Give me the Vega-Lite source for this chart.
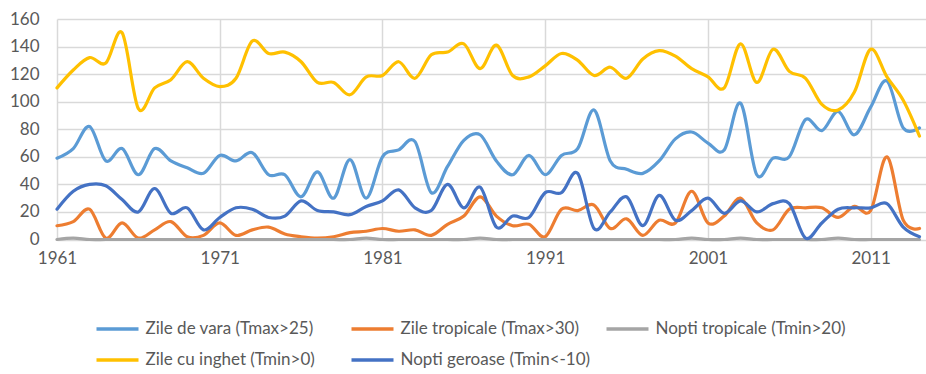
{
  "$schema": "https://vega.github.io/schema/vega-lite/v6.json",
  "width": 869,
  "height": 220.5,
  "autosize": {"type": "none"},
  "padding": {"left": 57, "top": 19, "right": 0, "bottom": 134.5},
  "background": "white",
  "config": {
    "font": "Lato",
    "view": {"stroke": null},
    "axis": {"labelFont": "Lato", "labelFontSize": 17, "labelColor": "#595959", "gridColor": "#D9D9D9", "gridWidth": 1.5, "domain": false, "ticks": false, "title": null}
  },
  "data": {
    "values": [
      {"year": 1961, "vara": 59, "trop": 10, "ntrop": 0, "inghet": 110, "ger": 22},
      {"year": 1962, "vara": 66, "trop": 13, "ntrop": 1, "inghet": 123, "ger": 35},
      {"year": 1963, "vara": 82, "trop": 22, "ntrop": 0, "inghet": 132, "ger": 40},
      {"year": 1964, "vara": 57, "trop": 1, "ntrop": 0, "inghet": 128, "ger": 39},
      {"year": 1965, "vara": 66, "trop": 12, "ntrop": 0, "inghet": 150, "ger": 29},
      {"year": 1966, "vara": 47, "trop": 1, "ntrop": 0, "inghet": 95, "ger": 20},
      {"year": 1967, "vara": 66, "trop": 7, "ntrop": 0, "inghet": 110, "ger": 37},
      {"year": 1968, "vara": 57, "trop": 13, "ntrop": 0, "inghet": 116, "ger": 19},
      {"year": 1969, "vara": 52, "trop": 2, "ntrop": 0, "inghet": 129, "ger": 23},
      {"year": 1970, "vara": 48, "trop": 3, "ntrop": 0, "inghet": 117, "ger": 7},
      {"year": 1971, "vara": 61, "trop": 12, "ntrop": 0, "inghet": 111, "ger": 16},
      {"year": 1972, "vara": 57, "trop": 3, "ntrop": 0, "inghet": 117, "ger": 23},
      {"year": 1973, "vara": 63, "trop": 7, "ntrop": 0, "inghet": 144, "ger": 22},
      {"year": 1974, "vara": 47, "trop": 9, "ntrop": 0, "inghet": 135, "ger": 16},
      {"year": 1975, "vara": 47, "trop": 4, "ntrop": 0, "inghet": 136, "ger": 17},
      {"year": 1976, "vara": 31, "trop": 2, "ntrop": 0, "inghet": 129, "ger": 28},
      {"year": 1977, "vara": 49, "trop": 1, "ntrop": 0, "inghet": 114, "ger": 21},
      {"year": 1978, "vara": 30, "trop": 2, "ntrop": 0, "inghet": 114, "ger": 20},
      {"year": 1979, "vara": 58, "trop": 5, "ntrop": 0, "inghet": 105, "ger": 18},
      {"year": 1980, "vara": 30, "trop": 6, "ntrop": 1, "inghet": 118, "ger": 24},
      {"year": 1981, "vara": 60, "trop": 8, "ntrop": 0, "inghet": 119, "ger": 28},
      {"year": 1982, "vara": 65, "trop": 6, "ntrop": 0, "inghet": 129, "ger": 36},
      {"year": 1983, "vara": 71, "trop": 7, "ntrop": 0, "inghet": 117, "ger": 23},
      {"year": 1984, "vara": 34, "trop": 3, "ntrop": 0, "inghet": 134, "ger": 21},
      {"year": 1985, "vara": 53, "trop": 11, "ntrop": 0, "inghet": 136, "ger": 40},
      {"year": 1986, "vara": 72, "trop": 17, "ntrop": 0, "inghet": 142, "ger": 23},
      {"year": 1987, "vara": 76, "trop": 31, "ntrop": 1, "inghet": 124, "ger": 38},
      {"year": 1988, "vara": 57, "trop": 17, "ntrop": 0, "inghet": 141, "ger": 9},
      {"year": 1989, "vara": 47, "trop": 10, "ntrop": 0, "inghet": 119, "ger": 17},
      {"year": 1990, "vara": 61, "trop": 11, "ntrop": 0, "inghet": 118, "ger": 16},
      {"year": 1991, "vara": 47, "trop": 2, "ntrop": 0, "inghet": 126, "ger": 34},
      {"year": 1992, "vara": 61, "trop": 22, "ntrop": 0, "inghet": 135, "ger": 34},
      {"year": 1993, "vara": 66, "trop": 21, "ntrop": 0, "inghet": 130, "ger": 48},
      {"year": 1994, "vara": 94, "trop": 25, "ntrop": 0, "inghet": 119, "ger": 8},
      {"year": 1995, "vara": 57, "trop": 8, "ntrop": 0, "inghet": 125, "ger": 20},
      {"year": 1996, "vara": 51, "trop": 15, "ntrop": 0, "inghet": 117, "ger": 31},
      {"year": 1997, "vara": 48, "trop": 3, "ntrop": 0, "inghet": 131, "ger": 10},
      {"year": 1998, "vara": 57, "trop": 14, "ntrop": 0, "inghet": 137, "ger": 32},
      {"year": 1999, "vara": 73, "trop": 12, "ntrop": 0, "inghet": 133, "ger": 14},
      {"year": 2000, "vara": 78, "trop": 35, "ntrop": 1, "inghet": 124, "ger": 21},
      {"year": 2001, "vara": 70, "trop": 12, "ntrop": 0, "inghet": 118, "ger": 30},
      {"year": 2002, "vara": 65, "trop": 17, "ntrop": 0, "inghet": 110, "ger": 19},
      {"year": 2003, "vara": 99, "trop": 30, "ntrop": 1, "inghet": 142, "ger": 28},
      {"year": 2004, "vara": 47, "trop": 12, "ntrop": 0, "inghet": 114, "ger": 20},
      {"year": 2005, "vara": 59, "trop": 7, "ntrop": 0, "inghet": 138, "ger": 26},
      {"year": 2006, "vara": 60, "trop": 22, "ntrop": 0, "inghet": 122, "ger": 26},
      {"year": 2007, "vara": 87, "trop": 23, "ntrop": 0, "inghet": 117, "ger": 1},
      {"year": 2008, "vara": 79, "trop": 23, "ntrop": 0, "inghet": 98, "ger": 12},
      {"year": 2009, "vara": 93, "trop": 16, "ntrop": 1, "inghet": 94, "ger": 22},
      {"year": 2010, "vara": 76, "trop": 24, "ntrop": 0, "inghet": 107, "ger": 23},
      {"year": 2011, "vara": 96, "trop": 21, "ntrop": 0, "inghet": 138, "ger": 23},
      {"year": 2012, "vara": 115, "trop": 60, "ntrop": 0, "inghet": 118, "ger": 26},
      {"year": 2013, "vara": 81, "trop": 14, "ntrop": 0, "inghet": 101, "ger": 9},
      {"year": 2014, "vara": 81, "trop": 8, "ntrop": 0, "inghet": 75, "ger": 2}
    ]
  },
  "transform": [
    {"fold": ["vara", "trop", "ntrop", "inghet", "ger"], "as": ["serie", "val"]}
  ],
  "mark": {"type": "line", "interpolate": "cardinal", "strokeWidth": 3.2, "strokeCap": "round", "strokeJoin": "round"},
  "encoding": {
    "x": {
      "field": "year", "type": "quantitative",
      "scale": {"domain": [1961, 2014.4], "nice": false, "zero": false},
      "axis": {"values": [1961, 1971, 1981, 1991, 2001, 2011], "format": "d", "labelPadding": 11, "labelFlush": false}
    },
    "y": {
      "field": "val", "type": "quantitative",
      "scale": {"domain": [0, 160], "nice": false},
      "axis": {"values": [0, 20, 40, 60, 80, 100, 120, 140, 160], "labelPadding": 18}
    },
    "color": {
      "field": "serie", "type": "nominal",
      "scale": {
        "domain": ["vara", "trop", "ntrop", "inghet", "ger"],
        "range": ["#5B9BD5", "#ED7D31", "#A5A5A5", "#FFC000", "#4472C4"]
      },
      "legend": {
        "orient": "none", "legendX": 37.5, "legendY": 287, "direction": "horizontal", "columns": 3,
        "gridAlign": "all", "columnPadding": 8, "rowPadding": -5, "padding": 0, "title": null,
        "symbolType": "stroke", "symbolSize": 1764, "symbolStrokeWidth": 3.5,
        "labelFont": "Lato", "labelFontSize": 17, "labelColor": "#595959", "labelOffset": 5, "labelLimit": 400,
        "labelExpr": "{'vara': 'Zile de vara (Tmax>25)', 'trop': 'Zile tropicale (Tmax>30)', 'ntrop': 'Nopti tropicale (Tmin>20)', 'inghet': 'Zile cu inghet (Tmin>0)', 'ger': 'Nopti geroase (Tmin<-10)'}[datum.value]"
      }
    }
  }
}
